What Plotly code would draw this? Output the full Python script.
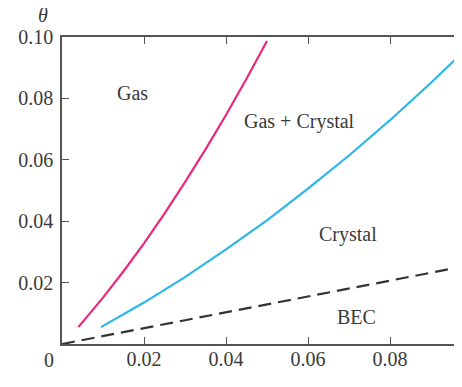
import plotly.graph_objects as go

# ---- data ----
gas_x = [0.004, 0.01, 0.015, 0.02, 0.025, 0.03, 0.035, 0.04, 0.045, 0.05]
gas_theta = [0.0055, 0.0151, 0.0237, 0.0328, 0.0425, 0.0527, 0.0634, 0.0746, 0.0864, 0.0987]

crystal_x = [0.0095, 0.02, 0.03, 0.04, 0.05, 0.06, 0.07, 0.08, 0.09, 0.1]
crystal_theta = [0.0055, 0.0135, 0.0218, 0.0308, 0.0403, 0.0506, 0.0614, 0.0729, 0.0851, 0.0979]

bec_x = [0.0, 0.1]
bec_theta = [0.0, 0.0258]

x_ticks = [0.02, 0.04, 0.06, 0.08]
x_ticklabels = ["0.02", "0.04", "0.06", "0.08"]
y_ticks = [0.02, 0.04, 0.06, 0.08, 0.10]
y_ticklabels = ["0.02", "0.04", "0.06", "0.08", "0.10"]

region_labels = ["Gas", "Gas + Crystal", "Crystal", "BEC"]
region_x = [0.0173, 0.058, 0.0698, 0.0719]
region_y = [0.0818, 0.0725, 0.0356, 0.0089]

FONT = "Liberation Serif"
TXT = "#3a3a3a"
AX = "#555555"

fig = go.Figure()
fig.add_trace(go.Scatter(x=gas_x, y=gas_theta, mode="lines",
                         line=dict(color="#e8287c", width=2.2), showlegend=False))
fig.add_trace(go.Scatter(x=crystal_x, y=crystal_theta, mode="lines",
                         line=dict(color="#2bb6e6", width=2.2), showlegend=False))
fig.add_trace(go.Scatter(x=bec_x, y=bec_theta, mode="lines",
                         line=dict(color="#333333", width=2.2, dash="13px,7px"),
                         showlegend=False))

for t, xx, yy in zip(region_labels, region_x, region_y):
    fig.add_annotation(x=xx, y=yy, text=t, showarrow=False,
                       font=dict(family=FONT, size=20, color=TXT))

# origin "0"
fig.add_annotation(x=0, y=0, text="0", showarrow=False, xshift=-13, yshift=-16,
                   font=dict(family=FONT, size=20, color=TXT))
# axis titles
fig.add_annotation(xref="paper", yref="paper", x=-0.0475, y=1.0715,
                   xanchor="center", yanchor="middle",
                   text="<i>θ</i>", showarrow=False,
                   font=dict(family=FONT, size=20, color=TXT))
fig.add_annotation(xref="paper", yref="paper", x=0.9875, y=-0.115,
                   xanchor="left", yanchor="middle",
                   text="<i>n</i>", showarrow=False,
                   font=dict(family=FONT, size=20, color=TXT))

fig.update_layout(
    width=454, height=379,
    margin=dict(l=54, r=0, t=29, b=43),
    paper_bgcolor="white", plot_bgcolor="white",
    font=dict(family=FONT, size=20, color=TXT),
    xaxis=dict(range=[0, 0.09756], showgrid=False, zeroline=False,
               showline=True, linecolor=AX, linewidth=1.5, mirror="ticks",
               ticks="inside", ticklen=7, tickwidth=1.3, tickcolor=AX,
               ticklabelstandoff=-4,
               tickvals=x_ticks, ticktext=x_ticklabels),
    yaxis=dict(range=[0, 0.1], showgrid=False, zeroline=False,
               showline=True, linecolor=AX, linewidth=1.5,
               ticks="inside", ticklen=7, tickwidth=1.3, tickcolor=AX,
               ticklabelstandoff=3,
               tickvals=y_ticks, ticktext=y_ticklabels),
)

fig.write_html("out.html")
